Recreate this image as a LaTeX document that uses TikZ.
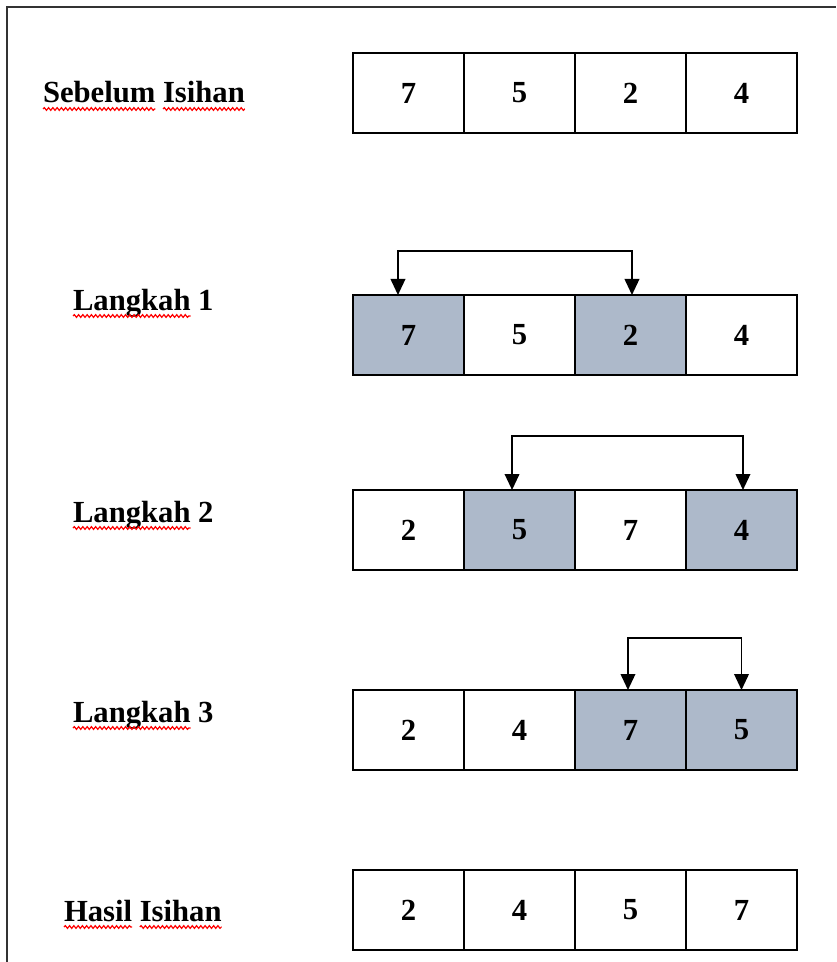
\documentclass[tikz,border=0pt]{standalone}
\usepackage{fontspec}
\setmainfont{Liberation Serif}
\usetikzlibrary{arrows.meta,decorations.pathmorphing}
\definecolor{hl}{RGB}{173,185,202}
\begin{document}
\begin{tikzpicture}[x=0.75pt,y=-0.75pt,
  cell/.style={draw, line width=1.3pt, minimum width=83.25pt, minimum height=60pt, inner sep=0pt, outer sep=0pt, font=\bfseries\fontsize{23}{27}\selectfont},
  hlcell/.style={cell, fill=hl},
  lbl/.style={anchor=base west, inner sep=0pt, outer sep=0pt, font=\bfseries\fontsize{23}{27}\selectfont},
  wavy/.style={draw=red, line width=0.9pt, decorate, decoration={snake, amplitude=1pt, segment length=3.2pt}},
  swapline/.style={line width=1.2pt, {Triangle[length=12pt,width=11pt]}-{Triangle[length=12pt,width=11pt]}},
  frame/.style={line width=1.5pt, draw=black!80}
]
\useasboundingbox (0,0) rectangle (836,962);
% frame
\draw[frame] (7,962) -- (7,7) -- (836,7);

% rows of cells
\foreach \v/\s [count=\i] in {7/cell,5/cell,2/cell,4/cell}
  \node[\s] (a\i) at ({297.5+111*\i},93) {\v};
\foreach \v/\s [count=\i] in {7/hlcell,5/cell,2/hlcell,4/cell}
  \node[\s] (b\i) at ({297.5+111*\i},335) {\v};
\foreach \v/\s [count=\i] in {2/cell,5/hlcell,7/cell,4/hlcell}
  \node[\s] (c\i) at ({297.5+111*\i},530) {\v};
\foreach \v/\s [count=\i] in {2/cell,4/cell,7/hlcell,5/hlcell}
  \node[\s] (d\i) at ({297.5+111*\i},730) {\v};
\foreach \v/\s [count=\i] in {2/cell,4/cell,5/cell,7/cell}
  \node[\s] (e\i) at ({297.5+111*\i},910) {\v};

% swap arrows
\draw[swapline] ([xshift=-7.9pt]b1.north) -- ++(0,-44) -| ([xshift=1.1pt]b3.north);
\draw[swapline] ([xshift=-5.6pt]c2.north) -- ++(0,-54) -| ([xshift=1.1pt]c4.north);
\draw[swapline] ([xshift=-1.9pt]d3.north) -- ++(0,-52) -| ([xshift=0pt]d4.north);

% labels
\node[lbl] (s1) at (43,103) {Sebelum};
\node[lbl] (s2) at ([xshift=5.7pt]s1.base east) {Isihan};
\node[lbl] (l1) at (73,310) {Langkah};
\node[lbl] (l1n) at ([xshift=5.7pt]l1.base east) {1};
\node[lbl] (l2) at (73,522) {Langkah};
\node[lbl] (l2n) at ([xshift=5.7pt]l2.base east) {2};
\node[lbl] (l3) at (73,722) {Langkah};
\node[lbl] (l3n) at ([xshift=5.7pt]l3.base east) {3};
\node[lbl] (h1) at (64,921) {Hasil};
\node[lbl] (h2) at ([xshift=5.7pt]h1.base east) {Isihan};

% spell-check underlines
\foreach \n in {s1,s2,l1,l2,l3,h1,h2}
  \draw[wavy] ([yshift=-4.5pt]\n.base west) -- ([yshift=-4.5pt]\n.base east);
\end{tikzpicture}
\end{document}
